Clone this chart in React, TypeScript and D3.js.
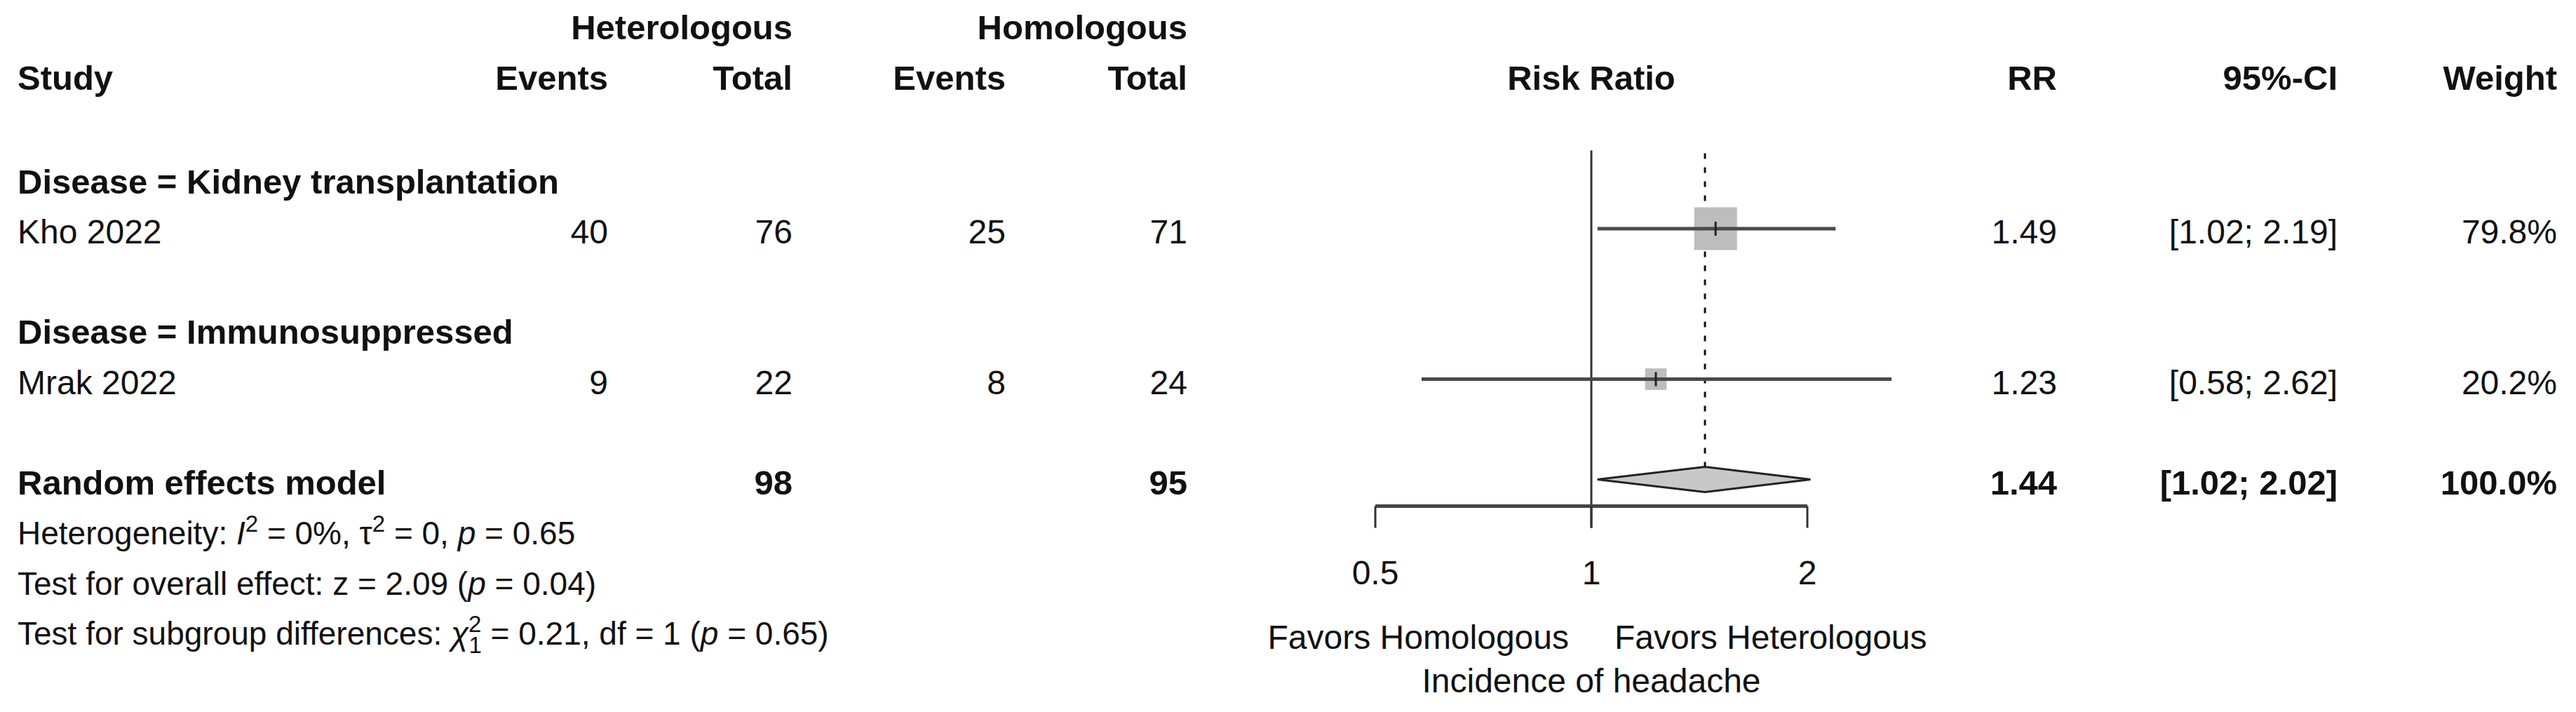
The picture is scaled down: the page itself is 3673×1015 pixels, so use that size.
import React, { useEffect, useRef } from 'react';
import * as d3 from 'd3';

// study rows
const studies = ['Kho 2022', 'Mrak 2022'];
const subgroups = ['Disease = Kidney transplantation', 'Disease = Immunosuppressed'];
const hetEvents = [40, 9];
const hetTotal = [76, 22];
const homEvents = [25, 8];
const homTotal = [71, 24];
const rr = [1.49, 1.23];
const ciLow = [1.02, 0.58];
const ciHigh = [2.19, 2.62];
const weights = [79.8, 20.2];

// pooled (random effects)
const pooledHetTotal = 98;
const pooledHomTotal = 95;
const pooledRR = 1.44;
const pooledLow = 1.02;
const pooledHigh = 2.02;
const pooledWeight = 100.0;

const axisTicks = [0.5, 1, 2];
const headers = ['Study', 'Events', 'Total', 'Events', 'Total', 'Risk Ratio', 'RR', '95%-CI', 'Weight'];

const FONT = '"Liberation Sans", Arial, Helvetica, sans-serif';
const FS = 48;
const FS_BOLD = 49;
const FS_STAT = 46;

const App: React.FC = () => {
  const ref = useRef<SVGSVGElement>(null);

  useEffect(() => {
    document.body.style.margin = '0';
    if (!ref.current) return;
    const svg = d3.select(ref.current);
    svg.selectAll('*').remove();

    const x = d3.scaleLog().domain([0.5, 2]).range([1961, 2577]);
    const baseline = d3.scaleLinear().domain([4, 12]).range([347, 919]);
    const center = (r: number) => baseline(r) - 21;

    // column right edges
    const colX = { study: 25, hetEv: 867, hetTot: 1130, homEv: 1434, homTot: 1693, rr: 2933, ci: 3333, w: 3646 };

    const text = (s: string, tx: number, ty: number, anchor = 'end', bold = false) =>
      svg.append('text')
        .attr('x', tx)
        .attr('y', ty)
        .attr('text-anchor', anchor)
        .attr('font-family', FONT)
        .attr('font-size', bold ? FS_BOLD : FS)
        .attr('font-weight', bold ? 'bold' : 'normal')
        .attr('fill', '#111')
        .text(s);

    // headers
    text('Heterologous', colX.hetTot, 56, 'end', true);
    text('Homologous', colX.homTot, 56, 'end', true);
    const hx = [colX.study, colX.hetEv, colX.hetTot, colX.homEv, colX.homTot, x(1), colX.rr, colX.ci, colX.w];
    headers.forEach((h, i) => text(h, hx[i], 128, i === 0 ? 'start' : i === 5 ? 'middle' : 'end', true));

    // forest reference lines
    const topY = center(3) - 40;
    const axisY = center(9) + 38;
    svg.append('line')
      .attr('x1', x(1)).attr('x2', x(1))
      .attr('y1', topY).attr('y2', axisY + 31)
      .attr('stroke', '#333').attr('stroke-width', 3);
    svg.append('line')
      .attr('x1', x(pooledRR)).attr('x2', x(pooledRR))
      .attr('y1', topY + 4).attr('y2', center(9) - 18)
      .attr('stroke', '#111').attr('stroke-width', 3)
      .attr('stroke-dasharray', '8,12');

    // study rows
    studies.forEach((s, i) => {
      const r = 3 + i * 3;
      text(subgroups[i], colX.study, baseline(r), 'start', true);
      const yb = baseline(r + 1);
      const yc = center(r + 1);
      text(s, colX.study, yb, 'start');
      text(String(hetEvents[i]), colX.hetEv, yb);
      text(String(hetTotal[i]), colX.hetTot, yb);
      text(String(homEvents[i]), colX.homEv, yb);
      text(String(homTotal[i]), colX.homTot, yb);
      text(rr[i].toFixed(2), colX.rr, yb);
      text(`[${ciLow[i].toFixed(2)}; ${ciHigh[i].toFixed(2)}]`, colX.ci, yb);
      text(`${weights[i].toFixed(1)}%`, colX.w, yb);

      const side = 61 * Math.sqrt(weights[i] / weights[0]);
      svg.append('rect')
        .attr('x', x(rr[i]) - side / 2)
        .attr('y', yc - side / 2)
        .attr('width', side)
        .attr('height', side)
        .attr('fill', '#bdbdbd');
      svg.append('line')
        .attr('x1', x(ciLow[i])).attr('x2', x(ciHigh[i]))
        .attr('y1', yc).attr('y2', yc)
        .attr('stroke', '#4a4a4a').attr('stroke-width', 5);
      svg.append('line')
        .attr('x1', x(rr[i])).attr('x2', x(rr[i]))
        .attr('y1', yc - 10).attr('y2', yc + 10)
        .attr('stroke', '#222').attr('stroke-width', 3);
    });

    // pooled row
    const pb = baseline(9);
    const pc = center(9);
    text('Random effects model', colX.study, pb, 'start', true);
    text(String(pooledHetTotal), colX.hetTot, pb, 'end', true);
    text(String(pooledHomTotal), colX.homTot, pb, 'end', true);
    text(pooledRR.toFixed(2), colX.rr, pb, 'end', true);
    text(`[${pooledLow.toFixed(2)}; ${pooledHigh.toFixed(2)}]`, colX.ci, pb, 'end', true);
    text(`${pooledWeight.toFixed(1)}%`, colX.w, pb, 'end', true);
    svg.append('path')
      .attr('d', `M${x(pooledLow)},${pc}L${x(pooledRR)},${pc - 18}L${x(pooledHigh)},${pc}L${x(pooledRR)},${pc + 18}Z`)
      .attr('fill', '#c8c8c8')
      .attr('stroke', '#222')
      .attr('stroke-width', 3);

    // statistics lines
    const stat = (ty: number) =>
      svg.append('text')
        .attr('x', colX.study).attr('y', ty)
        .attr('font-family', FONT).attr('font-size', FS_STAT).attr('fill', '#111');

    const het = stat(baseline(10));
    het.append('tspan').text('Heterogeneity: ');
    het.append('tspan').attr('font-style', 'italic').text('I');
    het.append('tspan').attr('font-size', 33).attr('dy', -18).text('2');
    het.append('tspan').attr('dy', 18).text(' = 0%, τ');
    het.append('tspan').attr('font-size', 33).attr('dy', -18).text('2');
    het.append('tspan').attr('dy', 18).text(' = 0, ');
    het.append('tspan').attr('font-style', 'italic').text('p');
    het.append('tspan').text(' = 0.65');

    const ov = stat(baseline(11));
    ov.append('tspan').text('Test for overall effect: z = 2.09 (');
    ov.append('tspan').attr('font-style', 'italic').text('p');
    ov.append('tspan').text(' = 0.04)');

    const sg = stat(baseline(12));
    sg.append('tspan').text('Test for subgroup differences: ');
    sg.append('tspan').attr('font-style', 'italic').text('χ');
    sg.append('tspan').attr('font-size', 33).attr('dy', -18).text('2');
    sg.append('tspan').attr('font-size', 33).attr('dx', -18).attr('dy', 30).text('1');
    sg.append('tspan').attr('dy', -12).text(' = 0.21, df = 1 (');
    sg.append('tspan').attr('font-style', 'italic').text('p');
    sg.append('tspan').text(' = 0.65)');

    // axis
    svg.append('line')
      .attr('x1', x(0.5)).attr('x2', x(2))
      .attr('y1', axisY).attr('y2', axisY)
      .attr('stroke', '#444').attr('stroke-width', 5);
    axisTicks.forEach(t => {
      svg.append('line')
        .attr('x1', x(t)).attr('x2', x(t))
        .attr('y1', axisY).attr('y2', axisY + 31)
        .attr('stroke', '#333').attr('stroke-width', 3);
      text(String(t), x(t), axisY + 111, 'middle');
    });

    text('Favors Homologous', x(1) - 32, 925, 'end');
    text('Favors Heterologous', x(1) + 33, 925, 'start');
    text('Incidence of headache', x(1), 987, 'middle');
  }, []);

  return <svg ref={ref} width={3673} height={1015} style={{ display: 'block', background: '#fff' }} />;
};

export default App;
